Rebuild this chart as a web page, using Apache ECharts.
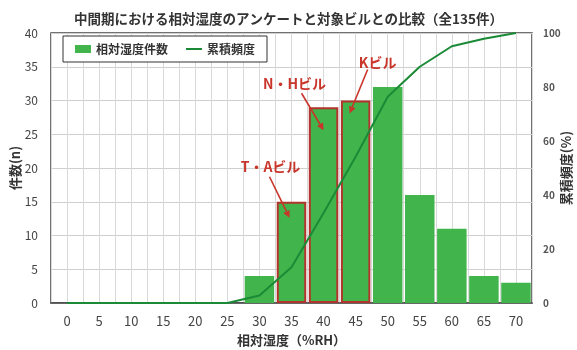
<!DOCTYPE html>
<html>
<head>
<meta charset="utf-8">
<script src="https://cdn.jsdelivr.net/npm/echarts@6/dist/echarts.min.js"></script>
<style>
  html, body { margin: 0; padding: 0; background: #fff; }
  #chart { width: 577px; height: 350px; }
</style>
</head>
<body>
<div id="chart"></div>
<script>
// 相対湿度の階級 (%RH)
const categories = ['0','5','10','15','20','25','30','35','40','45','50','55','60','65','70'];
// 各階級の件数
const counts = [0,0,0,0,0,0,4,15,29,30,32,16,11,4,3];
// 累積頻度 (%)
const cumulative = [0,0,0,0,0,0,2.8,13.2,33.3,54.2,76.4,87.5,95.1,97.9,100];
// 対象ビルの注記 (階級, ラベル)
const buildings = [
  { cat: '35', label: 'T・Aビル' },
  { cat: '40', label: 'N・Hビル' },
  { cat: '45', label: 'Kビル' }
];
const leftTicks = { min: 0, max: 40, interval: 5 };
const rightTicks = { min: 0, max: 100, interval: 20 };

// half-width slots used only for the vertical grid lines
const halfSlots = [];
categories.forEach(c => { halfSlots.push(c + 'a'); halfSlots.push(c + 'b'); });

const FONT = '"Noto Sans CJK JP", "Noto Sans", sans-serif';
const BAR_GREEN = '#41b44c';
const LINE_GREEN = '#1b8a36';
const RED = '#c9352b';
const BOX_RED = '#b3342c';

const boxed = new Set(buildings.map(b => b.cat));
const barData = counts.map((v, i) => boxed.has(categories[i])
  ? { value: v, itemStyle: { borderColor: BOX_RED, borderWidth: 2 } }
  : v);

const chart = echarts.init(document.getElementById('chart'), null, { renderer: 'canvas' });

chart.setOption({
  backgroundColor: '#fff',
  textStyle: { fontFamily: FONT },
  title: {
    text: '中間期における相対湿度のアンケートと対象ビルとの比較（全135件）',
    left: 'center',
    top: 7,
    textStyle: { fontSize: 13.5, fontWeight: 'bold', color: '#333', fontFamily: FONT }
  },
  legend: {
    left: 63,
    top: 36,
    width: 190,
    padding: [7, 12, 7, 12],
    backgroundColor: '#fff',
    borderColor: '#333',
    borderWidth: 1,
    itemGap: 18,
    itemWidth: 16,
    itemHeight: 8,
    textStyle: { fontSize: 12, fontWeight: 'bold', color: '#333', fontFamily: FONT },
    data: [
      { name: '相対湿度件数', icon: 'rect' },
      { name: '累積頻度', icon: 'path://M0,0H40V5H0Z' }
    ]
  },
  grid: {
    left: 51, right: 45, top: 33, bottom: 47,
    outerBoundsMode: 'none',
    containLabel: false,
    show: true,
    borderColor: '#444',
    borderWidth: 1.5,
    backgroundColor: 'transparent'
  },
  xAxis: [
    {
      type: 'category',
      data: categories,
      boundaryGap: true,
      name: '相対湿度（%RH）',
      nameLocation: 'middle',
      nameMoveOverlap: false,
      nameGap: 37,
      nameTextStyle: { fontSize: 13, fontWeight: 'bold', color: '#333', fontFamily: FONT,
                       align: 'center', verticalAlign: 'middle' },
      axisLine: { lineStyle: { color: '#444', width: 1.5 } },
      axisTick: { show: false },
      axisLabel: { fontSize: 13, color: '#444', margin: 12, interval: 0 },
      splitLine: { show: false }
    },
    {
      type: 'category',
      data: halfSlots,
      boundaryGap: true,
      position: 'bottom',
      axisLine: { show: false },
      axisTick: { show: false },
      axisLabel: { show: false },
      splitLine: { show: true, interval: 0, lineStyle: { color: '#d9d9d9', width: 1 } }
    }
  ],
  yAxis: [
    {
      type: 'value',
      min: leftTicks.min, max: leftTicks.max, interval: leftTicks.interval,
      name: '件数(n)',
      nameLocation: 'middle',
      nameMoveOverlap: false,
      nameGap: 36,
      nameTextStyle: { fontSize: 13, fontWeight: 'bold', color: '#333', fontFamily: FONT,
                       align: 'center', verticalAlign: 'middle' },
      axisLine: { show: false },
      axisTick: { show: false },
      axisLabel: { fontSize: 12, color: '#444', margin: 13 },
      splitLine: { show: true, lineStyle: { color: '#cfcfcf', width: 1 } }
    },
    {
      type: 'value',
      position: 'right',
      min: rightTicks.min, max: rightTicks.max, interval: rightTicks.interval,
      name: '累積頻度(%)',
      nameLocation: 'middle',
      nameMoveOverlap: false,
      nameRotate: 90,
      nameGap: 34,
      nameTextStyle: { fontSize: 13, fontWeight: 'bold', color: '#333', fontFamily: FONT,
                       align: 'center', verticalAlign: 'middle' },
      axisLine: { show: false },
      axisTick: { show: false },
      axisLabel: { fontSize: 10, fontWeight: 'bold', color: '#555', margin: 11 },
      splitLine: { show: false }
    }
  ],
  series: [
    {
      name: '相対湿度件数',
      type: 'bar',
      xAxisIndex: 0,
      yAxisIndex: 0,
      data: barData,
      barCategoryGap: '8%',
      itemStyle: { color: BAR_GREEN },
      z: 2
    },
    {
      name: '累積頻度',
      type: 'line',
      xAxisIndex: 0,
      yAxisIndex: 1,
      data: cumulative,
      symbol: 'none',
      lineStyle: { color: LINE_GREEN, width: 2 },
      itemStyle: { color: LINE_GREEN },
      z: 3
    }
  ]
});

// Annotation offsets relative to the top-centre of each boxed bar
const notes = {
  '35': { text: [-21, -35], from: [-22, -25], to: [-2, 16] },
  '40': { text: [-29, -24], from: [-22, -14], to: [0, 23] },
  '45': { text: [22, -38], from: [12, -31], to: [-6, 13] }
};

function arrow(x1, y1, x2, y2) {
  const ang = Math.atan2(y2 - y1, x2 - x1);
  const len = 7, half = 3.5;
  const bx = x2 - len * Math.cos(ang), by = y2 - len * Math.sin(ang);
  const px = -Math.sin(ang) * half, py = Math.cos(ang) * half;
  return [
    { type: 'line', shape: { x1, y1, x2: bx, y2: by }, style: { stroke: RED, lineWidth: 1.6 }, z: 10 },
    { type: 'polygon', shape: { points: [[x2, y2], [bx + px, by + py], [bx - px, by - py]] },
      style: { fill: RED }, z: 10 }
  ];
}

const graphics = [];
buildings.forEach(b => {
  const idx = categories.indexOf(b.cat);
  const p = chart.convertToPixel({ xAxisIndex: 0, yAxisIndex: 0 }, [idx, counts[idx]]);
  const n = notes[b.cat];
  graphics.push({
    type: 'text',
    x: p[0] + n.text[0], y: p[1] + n.text[1],
    style: {
      text: b.label, fill: RED, fontSize: 14, fontWeight: 'bold',
      fontFamily: FONT, align: 'center', verticalAlign: 'middle'
    },
    z: 10
  });
  graphics.push(...arrow(p[0] + n.from[0], p[1] + n.from[1], p[0] + n.to[0], p[1] + n.to[1]));
});
chart.setOption({ graphic: graphics });
</script>
</body>
</html>
